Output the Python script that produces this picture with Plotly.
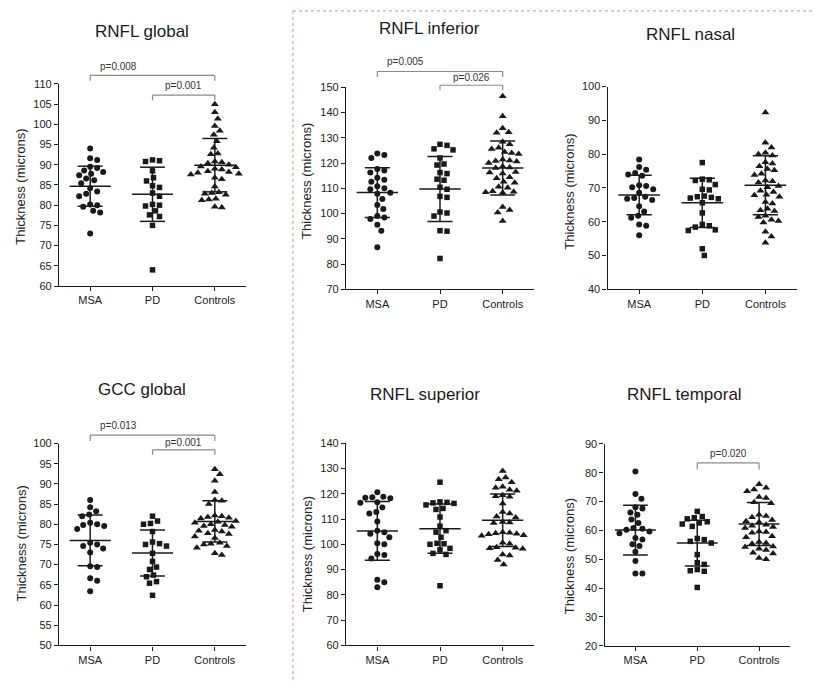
import plotly.graph_objects as go

# ---------------- data ----------------
categories = ["MSA", "PD", "Controls"]

rnfl_global_msa = [94.0, 91.6, 91.2, 89.5, 89.2, 88.6, 88.2, 87.8, 87.4, 86.6, 86.2, 85.4, 84.2, 83.4,
                   82.8, 82.2, 80.2, 80.0, 79.6, 78.6, 78.2, 73.0]
rnfl_global_pd = [91.2, 91.0, 90.8, 88.5, 86.8, 86.0, 84.8, 84.4, 83.0, 82.2, 80.2, 80.0, 79.8, 78.6,
                  77.6, 77.2, 75.0, 64.0]
rnfl_global_ctrl = [105.0, 103.0, 101.4, 99.6, 98.4, 97.4, 95.8, 94.2, 92.8, 92.6, 90.8, 90.6, 90.4, 90.0,
                    89.6, 89.4, 89.0, 88.8, 88.4, 88.2, 88.0, 87.8, 87.6, 86.8, 86.4, 84.6, 83.2, 83.0,
                    82.8, 82.6, 81.6, 81.4, 81.2, 79.6, 79.4]
rnfl_global_mean = [84.7, 82.7, 89.9]
rnfl_global_sd = [4.95, 6.7, 6.6]

rnfl_inferior_msa = [123.8, 123.2, 122.0, 117.6, 117.0, 116.2, 114.2, 113.4, 112.6, 110.8, 110.0, 109.6,
                     108.2, 107.8, 105.8, 103.4, 101.8, 99.0, 98.4, 97.8, 95.6, 93.2, 86.6]
rnfl_inferior_pd = [127.4, 127.0, 125.6, 125.2, 122.0, 119.6, 119.2, 116.2, 115.8, 113.6, 113.2, 110.4,
                    109.6, 106.8, 106.4, 100.6, 100.2, 99.0, 93.2, 93.0, 82.2]
rnfl_inferior_ctrl = [146.4, 138.5, 133.8, 132.2, 132.0, 128.4, 127.4, 126.0, 125.6, 124.4, 124.0, 123.6,
                      121.4, 121.0, 120.8, 120.6, 120.0, 118.6, 118.2, 118.0, 116.4, 116.2, 115.8, 114.4,
                      114.0, 112.6, 112.2, 110.6, 110.2, 108.8, 108.6, 108.4, 108.2, 102.6, 101.4, 100.4, 97.0]
rnfl_inferior_mean = [108.3, 109.7, 118.0]
rnfl_inferior_sd = [9.85, 12.85, 10.7]

rnfl_nasal_msa = [78.4, 76.2, 75.4, 74.4, 74.0, 73.6, 70.8, 70.6, 70.2, 69.6, 68.6, 67.4, 67.0, 66.8, 66.4,
                  64.6, 63.0, 61.8, 61.2, 59.2, 58.8, 56.0]
rnfl_nasal_pd = [77.5, 72.6, 72.4, 72.2, 71.0, 69.6, 69.4, 67.6, 67.4, 67.2, 67.0, 66.8, 65.6, 62.6, 59.2,
                 58.8, 58.4, 57.6, 57.4, 52.0, 50.0]
rnfl_nasal_ctrl = [92.3, 83.4, 82.0, 80.4, 80.0, 79.6, 77.6, 77.2, 76.4, 75.6, 75.2, 74.2, 73.8, 72.2, 72.0,
                   71.6, 70.6, 70.2, 69.2, 68.8, 68.0, 67.8, 67.4, 65.8, 65.4, 63.8, 63.4, 63.2, 61.8, 61.4,
                   60.6, 60.2, 59.8, 57.0, 55.6, 53.8]
rnfl_nasal_mean = [67.9, 65.6, 70.8]
rnfl_nasal_sd = [5.85, 7.3, 8.75]

gcc_global_msa = [86.0, 84.2, 83.2, 82.4, 82.0, 80.4, 80.0, 79.8, 79.6, 78.8, 75.4, 75.0, 74.6, 74.0, 73.0,
                  69.6, 69.4, 66.6, 66.0, 63.4]
gcc_global_pd = [82.0, 80.8, 80.2, 80.0, 78.2, 75.6, 75.2, 75.0, 74.6, 72.8, 70.8, 69.4, 68.8, 67.4, 67.0,
                 65.8, 65.4, 62.4]
gcc_global_ctrl = [93.6, 92.4, 90.8, 88.0, 86.0, 85.8, 85.0, 82.2, 82.0, 81.8, 81.6, 81.4, 80.8, 80.6, 80.4,
                   80.0, 79.8, 79.6, 79.4, 78.6, 78.4, 78.2, 77.8, 77.6, 77.0, 76.6, 75.4, 75.2, 75.0, 74.6,
                   74.2, 72.8, 72.4]
gcc_global_mean = [76.0, 72.9, 80.7]
gcc_global_sd = [6.3, 5.7, 5.1]

rnfl_superior_msa = [120.6, 118.8, 118.6, 118.4, 118.2, 116.6, 116.4, 114.6, 112.8, 112.2, 109.0, 105.4,
                     104.8, 104.2, 102.8, 100.4, 100.0, 96.2, 95.8, 94.4, 86.0, 85.0, 83.0]
rnfl_superior_pd = [124.6, 116.8, 116.6, 116.4, 116.2, 115.6, 114.2, 113.8, 110.8, 107.2, 105.4, 104.8,
                    102.8, 100.4, 100.2, 100.0, 98.4, 97.8, 96.4, 96.0, 83.6]
rnfl_superior_ctrl = [129.0, 126.4, 125.8, 124.6, 122.8, 122.4, 121.6, 121.2, 119.4, 119.0, 118.8, 116.2,
                      112.8, 112.2, 111.0, 110.6, 108.8, 108.6, 108.4, 104.8, 104.6, 104.4, 104.2, 104.0,
                      103.6, 103.4, 100.6, 100.2, 98.8, 98.6, 98.4, 98.2, 96.0, 95.6, 93.8, 92.0]
rnfl_superior_mean = [105.3, 106.2, 109.5]
rnfl_superior_sd = [11.6, 9.75, 10.4]

rnfl_temporal_msa = [80.4, 72.6, 71.0, 68.0, 67.6, 66.2, 65.4, 63.8, 62.6, 60.8, 60.6, 60.2, 59.6, 59.0,
                     57.4, 56.8, 55.2, 54.6, 52.6, 49.4, 45.0, 45.0]
rnfl_temporal_pd = [66.6, 64.8, 64.4, 64.0, 63.0, 62.6, 62.2, 61.4, 57.2, 56.8, 56.2, 55.6, 51.6, 48.8,
                    48.2, 46.4, 46.0, 45.8, 40.2]
rnfl_temporal_ctrl = [76.0, 74.8, 74.2, 73.6, 71.6, 71.2, 69.8, 69.4, 65.4, 65.0, 64.6, 63.6, 63.2, 62.8,
                      62.0, 61.6, 61.2, 60.8, 59.6, 59.4, 59.2, 58.0, 57.6, 56.0, 55.6, 55.4, 54.4, 54.2,
                      53.6, 53.2, 52.2, 52.0, 50.4, 50.0]
rnfl_temporal_mean = [60.1, 55.6, 62.2]
rnfl_temporal_sd = [8.6, 7.95, 7.45]

panel_titles = ["RNFL global", "RNFL inferior", "RNFL nasal", "GCC global", "RNFL superior", "RNFL temporal"]
y_ranges = [(60, 110, 5), (70, 150, 10), (40, 100, 10), (50, 100, 5), (60, 140, 10), (20, 90, 10)]
y_title = "Thickness (microns)"

# p-value brackets: (panel index, from category, to category, label)
p_brackets = [
    (0, 0, 2, "p=0.008"), (0, 1, 2, "p=0.001"),
    (1, 0, 2, "p=0.005"), (1, 1, 2, "p=0.026"),
    (3, 0, 2, "p=0.013"), (3, 1, 2, "p=0.001"),
    (5, 1, 2, "p=0.020"),
]

# ---------------- layout geometry (pixels) ----------------
W, H = 815, 689
# x0, x1, y_top, y_bottom of each plotting area
boxes = [(59, 246, 79.3, 285.0), (346, 534, 82.7, 288.3), (607.6, 797, 82.0, 288.3),
         (59, 246, 445.3, 650.7), (346, 534, 445.0, 650.7), (604.5, 790, 445.7, 651.0)]
title_pos = [(142, 26), (430, 23), (690, 29), (142, 390), (425, 395), (684, 395)]
ytitle_pos = [(21, 184), (307, 178), (570, 189), (21, 547), (307, 558), (569, 560)]
# bracket placements in y-domain fractions: (bar, tick end, label)
bracket_y = [(1.042, 1.016, 1.088), (0.945, 0.919, 0.99),
             (1.078, 1.051, 1.126), (1.010, 0.985, 1.046),
             (1.042, 1.013, 1.091), (0.969, 0.944, 1.006),
             (0.906, 0.873, 0.951)]

groups = [
    (rnfl_global_msa, rnfl_global_pd, rnfl_global_ctrl, rnfl_global_mean, rnfl_global_sd),
    (rnfl_inferior_msa, rnfl_inferior_pd, rnfl_inferior_ctrl, rnfl_inferior_mean, rnfl_inferior_sd),
    (rnfl_nasal_msa, rnfl_nasal_pd, rnfl_nasal_ctrl, rnfl_nasal_mean, rnfl_nasal_sd),
    (gcc_global_msa, gcc_global_pd, gcc_global_ctrl, gcc_global_mean, gcc_global_sd),
    (rnfl_superior_msa, rnfl_superior_pd, rnfl_superior_ctrl, rnfl_superior_mean, rnfl_superior_sd),
    (rnfl_temporal_msa, rnfl_temporal_pd, rnfl_temporal_ctrl, rnfl_temporal_mean, rnfl_temporal_sd),
]

FONT = "Liberation Sans, Arial, sans-serif"
INK = "#1a1a1a"
symbols = ["circle", "square", "triangle-up"]
sizes = [6, 5.5, 7]


def px(x):
    return x / W


def py(y):
    return 1 - y / H


def swarm(values, ppu_y, ppu_x, d=7.0, step=1.0):
    """beeswarm offsets (in category units) so markers do not overlap"""
    order = sorted(range(len(values)), key=lambda i: -values[i])
    placed = []
    offs = [0.0] * len(values)
    for i in order:
        yv = values[i] * ppu_y
        cands = [0.0]
        k = 1
        while k < 60:
            cands += [k * step, -k * step]
            k += 1
        for c in cands:
            if all((c - a) ** 2 + (yv - b) ** 2 >= d * d for a, b in placed):
                break
        placed.append((c, yv))
        offs[i] = c / ppu_x
    return offs


fig = go.Figure()
layout = dict(width=W, height=H, autosize=False, margin=dict(l=0, r=0, t=0, b=0),
              paper_bgcolor="white", plot_bgcolor="white", showlegend=False,
              font=dict(family=FONT, color=INK))
annotations = []
shapes = []

for k in range(6):
    n = "" if k == 0 else str(k + 1)
    xa, ya = "x" + n, "y" + n
    x0, x1, yt, yb = boxes[k]
    lo, hi, step = y_ranges[k]
    ppu_y = (yb - yt) / (hi - lo)
    ppu_x = (x1 - x0) / 3.0
    msa, pdv, ctrl, means, sds = groups[k]
    for ci, vals in enumerate([msa, pdv, ctrl]):
        offs = swarm(vals, ppu_y, ppu_x)
        fig.add_trace(go.Scatter(
            x=[ci + o for o in offs], y=vals, xaxis=xa, yaxis=ya, mode="markers",
            marker=dict(symbol=symbols[ci], size=sizes[ci], color=INK, line=dict(width=0)),
            hoverinfo="y", cliponaxis=False))
        m, s = means[ci], sds[ci]
        fig.add_trace(go.Scatter(
            x=[ci - 0.33, ci + 0.33, None, ci - 0.2, ci + 0.2, None, ci - 0.2, ci + 0.2, None, ci, ci],
            y=[m, m, None, m + s, m + s, None, m - s, m - s, None, m + s, m - s],
            xaxis=xa, yaxis=ya, mode="lines", line=dict(color=INK, width=1.5), hoverinfo="skip"))
    layout["xaxis" + n] = dict(
        domain=[px(x0), px(x1)], anchor=ya, range=[-0.5, 2.5], tickmode="array",
        tickvals=[0, 1, 2], ticktext=categories, showline=True, linecolor=INK, linewidth=1.3,
        ticks="outside", ticklen=4, tickwidth=1.2, tickcolor=INK, showgrid=False, zeroline=False,
        tickfont=dict(size=11, color=INK, family=FONT), fixedrange=True)
    layout["yaxis" + n] = dict(
        domain=[py(yb), py(yt)], anchor=xa, range=[lo, hi], tickmode="array",
        tickvals=list(range(lo, hi + 1, step)), showline=True, linecolor=INK, linewidth=1.3,
        ticks="outside", ticklen=4, tickwidth=1.2, tickcolor=INK, showgrid=False, zeroline=False,
        tickfont=dict(size=11, color=INK, family=FONT), fixedrange=True)
    annotations.append(dict(text=panel_titles[k], xref="paper", yref="paper",
                            x=px(title_pos[k][0]), y=py(title_pos[k][1]), xanchor="center",
                            yanchor="middle", showarrow=False, font=dict(size=17, color=INK)))
    annotations.append(dict(text=y_title, xref="paper", yref="paper", textangle=-90,
                            x=px(ytitle_pos[k][0]), y=py(ytitle_pos[k][1]), xanchor="center",
                            yanchor="middle", showarrow=False, font=dict(size=13, color="#222")))

BR = "#8a8a8a"
for bi, (k, a, b, label) in enumerate(p_brackets):
    n = "" if k == 0 else str(k + 1)
    xa, ya = "x" + n, "y" + n
    bar, tick_end, lab = bracket_y[bi]
    for (xs0, ys0, xs1, ys1) in [(a, bar, b, bar), (a, bar, a, tick_end), (b, bar, b, tick_end)]:
        shapes.append(dict(type="line", xref=xa, yref=ya + " domain", x0=xs0, x1=xs1, y0=ys0, y1=ys1,
                           line=dict(color=BR, width=1.2)))
    if b - a > 1:
        annotations.append(dict(text=label, xref=xa, yref=ya + " domain", x=a + 0.13, y=lab,
                                xanchor="left", yanchor="middle", showarrow=False,
                                font=dict(size=10, color="#333")))
    else:
        annotations.append(dict(text=label, xref=xa, yref=ya + " domain", x=(a + b) / 2, y=lab,
                                xanchor="center", yanchor="middle", showarrow=False,
                                font=dict(size=10, color="#333")))

# dotted separator framing the right-hand panels
SEP = "#d48a8a"
shapes.append(dict(type="line", xref="paper", yref="paper", x0=px(293), x1=px(293), y0=py(5), y1=0,
                   line=dict(color=SEP, width=1, dash="dot")))
shapes.append(dict(type="line", xref="paper", yref="paper", x0=px(293), x1=1, y0=py(5), y1=py(5),
                   line=dict(color=SEP, width=1, dash="dot")))

layout["annotations"] = annotations
layout["shapes"] = shapes
fig.update_layout(**layout)
fig.write_html("out.html", config={"displayModeBar": False},
               post_script="document.body.style.margin='0';document.body.style.overflow='hidden';")
